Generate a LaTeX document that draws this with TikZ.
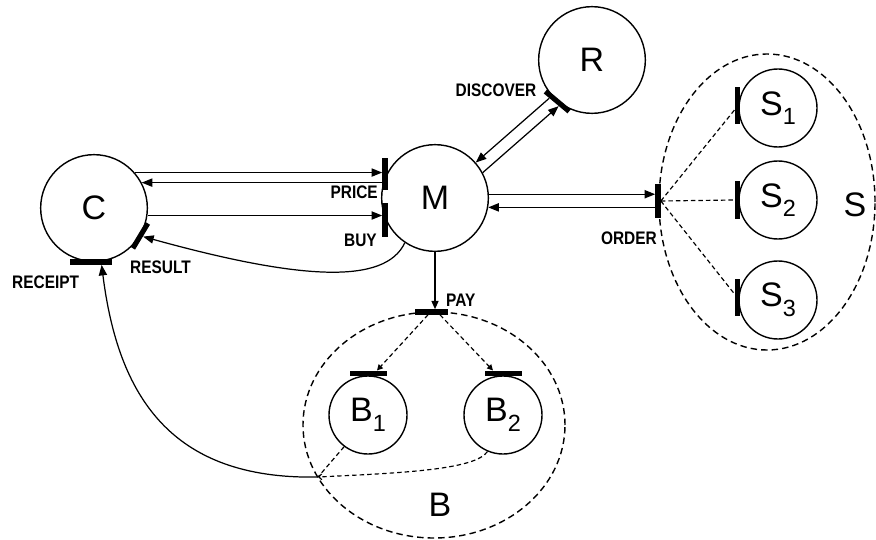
\documentclass[tikz,border=0pt]{standalone}
\usepackage{fontspec}
\setmainfont{Liberation Sans}
\newfontfamily\tagfont[FakeStretch=0.85]{Liberation Sans}
\usetikzlibrary{arrows.meta,calc,shapes.geometric}
% subscript index used inside the agent circles
\newcommand\subidx[1]{\raisebox{-0.28em}{\fontsize{20}{20}\selectfont #1}}

\begin{document}
\begin{tikzpicture}[x=0.03cm,y=-0.03cm,
  every node/.style={inner sep=0pt},
  place/.style={circle,draw,line width=1.2pt,minimum size=3.2cm,
    font=\fontsize{29}{29}\selectfont},
  subplace/.style={place,minimum size=2.34cm},
  hbar/.style={rectangle,fill=black,minimum height=0.155cm},
  vbar/.style={rectangle,fill=black,minimum width=0.155cm},
  tagtext/.style={font=\tagfont\bfseries\fontsize{15.5}{16}\selectfont},
  bigtext/.style={font=\fontsize{29}{29}\selectfont},
  flowarrow/.style={line width=1.05pt,-{Triangle[length=9pt,width=7pt]}},
  groupline/.style={draw,line width=1.2pt,dash pattern=on 5.5pt off 3.5pt},
  dashlink/.style={line width=1pt,dash pattern=on 3.8pt off 2.6pt},
  smalltip/.style={-{Triangle[length=5pt,width=5pt]}}
]
\useasboundingbox (0,0) rectangle (876,540);

% dashed groups
\node[groupline,ellipse,minimum width=7.86cm,minimum height=6.78cm] (Bgrp) at (434,425) {};
\node[groupline,ellipse,minimum width=6.48cm,minimum height=8.88cm] (Sgrp) at (767,202) {};
\node[bigtext] (Blbl) at (440,505) {B};
\node[bigtext] (Slbl) at (855,205) {S};

% agents
\node[place] (C) at (94,208) {C};
\node[place] (M) at (435,198) {M};
\node[place] (R) at (592,60) {R};
\node[subplace] (B1) at (368,415) {B\subidx{1}};
\node[subplace] (B2) at (503,415) {B\subidx{2}};
\node[subplace] (S1) at (778,108) {S\subidx{1}};
\node[subplace] (S2) at (778,200) {S\subidx{2}};
\node[subplace] (S3) at (778,300) {S\subidx{3}};

% ports
\node[vbar,minimum height=0.96cm] (pricebar) at (385,174) {};
\node[vbar,minimum height=1.02cm] (buybar) at (385,220) {};
\node[hbar,minimum width=0.87cm,rotate=59] (resultbar) at (C.-31) {};
\node[hbar,minimum width=1.26cm] (receiptbar) at ($(C.south)+(-3,0)$) {};
\node[hbar,minimum width=0.93cm,rotate=-40] (discbar) at (R.230) {};
\node[hbar,minimum width=0.99cm] (paybar) at (431,312) {};
\node[hbar,minimum width=1.11cm] (b1bar) at ($(B1.north)+(0,-2)$) {};
\node[hbar,minimum width=1.11cm] (b2bar) at ($(B2.north)+(0,-2)$) {};
\node[vbar,minimum height=0.99cm] (orderbar) at (658,201) {};
\node[vbar,minimum height=1.11cm] (s1bar) at ($(S1.west)+(-1,-2)$) {};
\node[vbar,minimum height=1.11cm] (s2bar) at ($(S2.west)+(-1,0)$) {};
\node[vbar,minimum height=1.11cm] (s3bar) at ($(S3.west)+(-1,-3)$) {};

% port labels
\node[tagtext,anchor=east] (pricelbl) at (378,192) {PRICE};
\node[tagtext,anchor=east] (buylbl) at (377,240) {BUY};
\node[tagtext,anchor=west] (resultlbl) at (130,267) {RESULT};
\node[tagtext,anchor=west] (receiptlbl) at (12,282) {RECEIPT};
\node[tagtext] (disclbl) at (496,90) {DISCOVER};
\node[tagtext,anchor=east] (orderlbl) at (657,238) {ORDER};
\node[tagtext,anchor=west] (paylbl) at (446,300) {PAY};

% customer <-> merchant
\draw[flowarrow] (C.41.8) -- (C.41.8 -| pricebar.west);
\draw[flowarrow] (C.28.8 -| pricebar.west) -- (C.28.8);
\draw[flowarrow] (C.-8.5) -- (C.-8.5 -| buybar.west);
\draw[flowarrow] (M.236) .. controls (385,285) and (300,280) .. (resultbar);

% merchant <-> registry
\draw[flowarrow] ($(discbar.south west)!0.24!(discbar.south east)$) -- (M.41);
\draw[flowarrow] (M.28) -- ($(discbar.south west)!0.63!(discbar.south east)$);

% merchant <-> suppliers
\draw[flowarrow] (M.4.3) -- (M.4.3 -| orderbar.west);
\draw[flowarrow] (M.-10.9 -| orderbar.west) -- (M.-10.9);
\draw[dashlink] (orderbar.east) -- ($(s1bar.west)+(0,4)$);
\draw[dashlink] (orderbar.east) -- (s2bar.west);
\draw[dashlink] (orderbar.east) -- ($(s3bar.west)+(0,-3)$);

% merchant -> banks
\draw[line width=1.05pt,-{Triangle[length=7pt,width=6pt]}] (M.south) -- (M.south |- paybar.north);
\draw[dashlink,smalltip] ($(paybar.south)+(-3,0)$) -- ($(b1bar.north)+(9,0)$);
\draw[dashlink,smalltip] ($(paybar.south)+(9,0)$) -- ($(b2bar.north)+(-10,0)$);

% banks -> customer receipt
\coordinate (J) at (318,477);
\draw[dashlink] (B1.233) -- (J);
\draw[dashlink,-{Straight Barb[length=2.5pt,width=5pt]}] (B2.247) .. controls (475,470) and (400,473) .. (J);
\draw[flowarrow] (J) .. controls (170,480) and (118,395) .. ($(receiptbar.south)!0.5!(receiptbar.south east)$);
\end{tikzpicture}
\end{document}
